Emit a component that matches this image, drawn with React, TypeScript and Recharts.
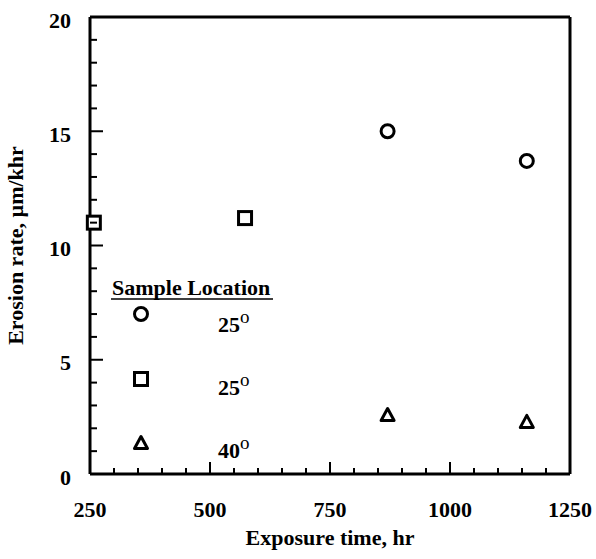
import React from "react";
import { ScatterChart, Scatter, XAxis, YAxis, ReferenceLine } from "recharts";

// ---- data ----
const circleX = [870, 1160];
const circleY = [15.0, 13.7];
const squareX = [258, 573];
const squareY = [11.0, 11.2];
const triangleX = [870, 1160];
const triangleY = [2.58, 2.28];

const xTicks = [250, 300, 350, 400, 450, 500, 550, 600, 650, 700, 750, 800, 850, 900, 950, 1000, 1050, 1100, 1150, 1200, 1250];
const yTicks = [0, 1, 2, 3, 4, 5, 6, 7, 8, 9, 10, 11, 12, 13, 14, 15, 16, 17, 18, 19, 20];
const xMajor = [250, 500, 750, 1000, 1250];
const yMajor = [0, 5, 10, 15, 20];

const legendTitle = "Sample Location";
const legendLabels = ["25", "25", "40"];

const xTitle = "Exposure time, hr";
const yTitle = "Erosion rate, \u00b5m/khr";

const circles = circleX.map((x, i) => ({ x, y: circleY[i] }));
const squares = squareX.map((x, i) => ({ x, y: squareY[i] }));
const triangles = triangleX.map((x, i) => ({ x, y: triangleY[i] }));

const TXT: React.CSSProperties = {
  fontFamily: "Liberation Serif, Times New Roman, Times, serif",
  fontWeight: 700,
  fontSize: 22,
  fill: "#000",
};

const CircleShape = (p: any) => (
  <circle cx={p.cx} cy={p.cy} r={6.5} fill="#fff" stroke="#000" strokeWidth={3} />
);
const SquareShape = (p: any) => (
  <rect x={p.cx - 6.5} y={p.cy - 6.5} width={13} height={13} fill="#fff" stroke="#000" strokeWidth={3} />
);
const TriangleShape = (p: any) => (
  <polygon
    points={`${p.cx},${p.cy - 6.5} ${p.cx + 6.5},${p.cy + 5.5} ${p.cx - 6.5},${p.cy + 5.5}`}
    fill="#fff"
    stroke="#000"
    strokeWidth={3}
    strokeLinejoin="round"
  />
);

const XTick = (props: any) => {
  const { x, y, payload } = props;
  const v = payload.value;
  const major = xMajor.includes(v);
  return (
    <g>
      <line x1={x} x2={x} y1={y} y2={y - (major ? 12 : 6)} stroke="#000" strokeWidth={2} />
      {major && (
        <text x={x} y={y + 43} textAnchor="middle" style={TXT}>
          {v}
        </text>
      )}
    </g>
  );
};

const YTick = (props: any) => {
  const { x, y, payload } = props;
  const v = payload.value;
  const major = yMajor.includes(v);
  return (
    <g>
      <line x1={x} x2={x + (major ? 13 : 7)} y1={y} y2={y} stroke="#000" strokeWidth={2} />
      {major && (
        <text x={x - 19} y={y + 10.5} textAnchor="end" style={TXT}>
          {v}
        </text>
      )}
    </g>
  );
};

const XLabel = (props: any) => {
  const vb = props.viewBox || { x: 90, y: 474, width: 480 };
  return (
    <text x={vb.x + vb.width / 2} y={vb.y + 71} textAnchor="middle" style={TXT}>
      {xTitle}
    </text>
  );
};

const YLabel = (props: any) => {
  const vb = props.viewBox || { x: 50, y: 17, width: 40, height: 457 };
  const cx = vb.x - 27;
  const cy = vb.y + vb.height / 2;
  return (
    <text x={cx} y={cy} transform={`rotate(-90, ${cx}, ${cy})`} textAnchor="middle" style={TXT}>
      {yTitle}
    </text>
  );
};

const legendMarkers = [
  { Shape: CircleShape, cy: 314, ty: 332 },
  { Shape: SquareShape, cy: 379, ty: 395 },
  { Shape: TriangleShape, cy: 443, ty: 458 },
];

export default function App() {
  const extra: any = { zIndex: 1000 };
  return (
    <div style={{ position: "absolute", left: 0, top: 0, width: 596, height: 559, background: "#fff" }}>
      <ScatterChart width={596} height={559} margin={{ top: 17, right: 26, left: 50, bottom: 55 }}>
        <XAxis
          type="number"
          dataKey="x"
          domain={[250, 1250]}
          ticks={xTicks}
          interval={0}
          height={30}
          tickSize={0}
          tickMargin={0}
          tickLine={false}
          axisLine={{ stroke: "#000", strokeWidth: 3 }}
          tick={<XTick />}
          label={{ content: <XLabel /> }}
        />
        <YAxis
          type="number"
          dataKey="y"
          domain={[0, 20]}
          ticks={yTicks}
          interval={0}
          width={40}
          tickSize={0}
          tickMargin={0}
          tickLine={false}
          axisLine={{ stroke: "#000", strokeWidth: 3 }}
          tick={<YTick />}
          label={{ content: <YLabel /> }}
        />
        <ReferenceLine y={20} stroke="#000" strokeWidth={3} />
        <ReferenceLine x={1250} stroke="#000" strokeWidth={3} />
        <Scatter name="circle" data={circles} shape={<CircleShape />} isAnimationActive={false} {...extra} />
        <Scatter name="square" data={squares} shape={<SquareShape />} isAnimationActive={false} {...extra} />
        <Scatter name="triangle" data={triangles} shape={<TriangleShape />} isAnimationActive={false} {...extra} />
      </ScatterChart>
      <svg
        width={596}
        height={559}
        style={{ position: "absolute", left: 0, top: 0, pointerEvents: "none" }}
      >
        <text x={112} y={295} style={TXT}>
          {legendTitle}
        </text>
        <line x1={111} x2={273} y1={299} y2={299} stroke="#000" strokeWidth={1.5} />
        {legendMarkers.map((m, i) => (
          <g key={i}>
            <m.Shape cx={141} cy={m.cy} />
            <text x={218} y={m.ty} style={TXT}>
              {legendLabels[i]}
              <tspan dy={-9} style={{ fontSize: 19, fontWeight: 400 }}>o</tspan>
            </text>
          </g>
        ))}
      </svg>
    </div>
  );
}
